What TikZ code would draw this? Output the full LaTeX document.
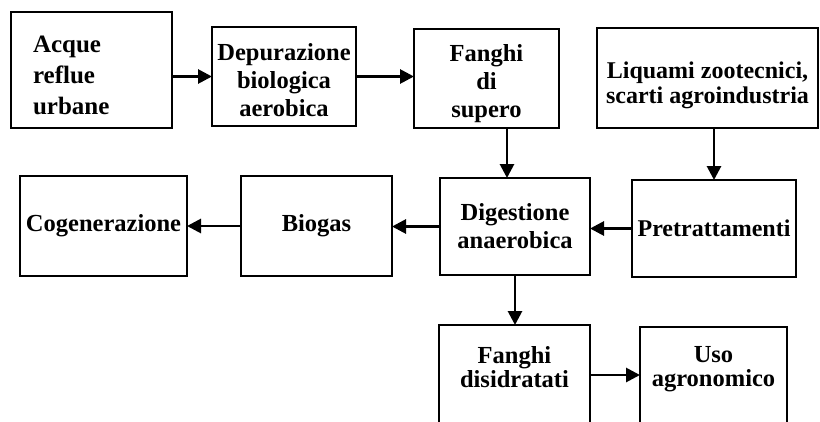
\documentclass[tikz,border=0pt]{standalone}
\usepackage{fontspec}
\setmainfont{Liberation Serif}
\usepackage{tikz}
\usetikzlibrary{positioning,arrows.meta}

\begin{document}
\begin{tikzpicture}[x=1pt, y=1pt, node distance = 40pt]
            \tikzstyle{box} = [draw=black, line width=2.8pt, inner sep=0pt, outer sep=0pt, align=center,
                               font=\bfseries\fontsize{24.5}{28}\selectfont]
            \tikzstyle{arr} = [line width=2.8pt, -{Triangle[length=14pt, width=14pt]}]
            \useasboundingbox (0,0) rectangle (820,-421);

            \node [box, minimum width=161pt, minimum height=116pt, text width=117pt,
                   inner xsep=22pt, align=left, font=\bfseries\fontsize{25}{31}\selectfont,
                   text height=27pt]
                   (acque) at (91.5,-70) {Acque\\reflue\\urbane};
            \node [box, minimum width=144pt, minimum height=99pt, right = 40pt of acque, yshift=-6.5pt,
                   text height=81pt]
                   (depur) {Depurazione\\biologica\\aerobica};
            \node [box, minimum width=145pt, minimum height=99pt, right = 58pt of depur, yshift=-2pt,
                   text height=84pt]
                   (supero) {Fanghi\\di\\supero};
            \node [box, minimum width=221pt, minimum height=100pt, right = 38pt of supero, yshift=0.5pt,
                   font=\bfseries\fontsize{24}{25}\selectfont, text height=56pt]
                   (liquami) {Liquami zootecnici,\\scarti agroindustria};

            \node [box, minimum width=150pt, minimum height=97pt, below = 50pt of supero, xshift=28.5pt]
                   (digest) {Digestione\\anaerobica};
            \node [box, minimum width=151pt, minimum height=100pt, left = 48pt of digest, yshift=0.5pt]
                   (biogas) {Biogas};
            \node [box, minimum width=167pt, minimum height=100pt, left = 54pt of biogas]
                   (cogen) {Cogenerazione};
            \node [box, minimum width=164pt, minimum height=97pt, right = 42pt of digest, yshift=-2pt,
                   font=\bfseries\fontsize{24}{28}\selectfont]
                   (pretr) {Pretrattamenti};

            \node [box, minimum width=151pt, minimum height=100pt, below = 50pt of digest, xshift=-0.5pt,
                   font=\bfseries\fontsize{24.5}{24}\selectfont, text depth=17pt]
                   (disid) {Fanghi\\disidratati};
            \node [box, minimum width=147pt, minimum height=96pt, right = 50pt of disid,
                   font=\bfseries\fontsize{24.5}{24}\selectfont, text depth=17pt]
                   (uso) {Uso\\agronomico};

            \draw [arr] (acque.east |- depur.west) -- (depur.west);
            \draw [arr] (depur.east) -- (depur.east -| supero.west);
            \draw [arr] ([xshift=20.5pt]supero.south) -- ([xshift=20.5pt]supero.south |- digest.north);
            \draw [arr] (liquami.south -| pretr.north) -- (pretr.north);
            \draw [arr] (pretr.west) -- (pretr.west -| digest.east);
            \draw [arr] (digest.west) -- (digest.west -| biogas.east);
            \draw [arr] (biogas.west) -- (cogen.east);
            \draw [arr] (digest.south) -- (digest.south |- disid.north);
            \draw [arr] (disid.east |- uso.west) -- (uso.west);
        \end{tikzpicture}
\end{document}
